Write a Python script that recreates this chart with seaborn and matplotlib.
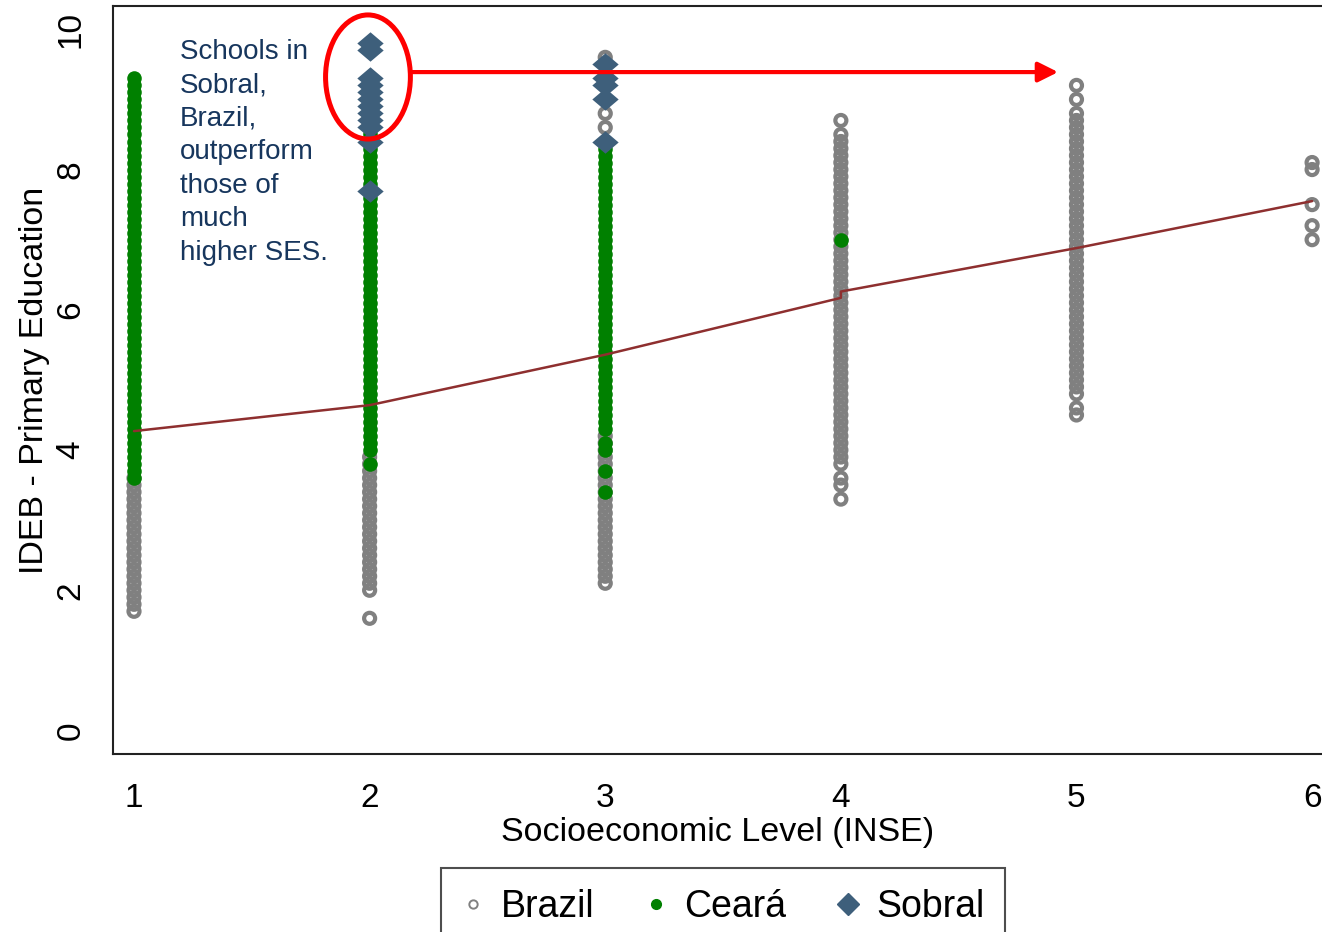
import matplotlib.pyplot as plt
import pandas as pd
import seaborn as sns
from matplotlib.lines import Line2D
from matplotlib.patches import Ellipse

# IDEB scores (INSE level -> visible scores)
brazil = {
    1: [1.7, 1.8, 1.9, 2.0, 2.1, 2.2, 2.3, 2.4, 2.5, 2.6, 2.7, 2.8, 2.9, 3.0,
        3.1, 3.2, 3.3, 3.4, 3.5, 3.6],
    2: [1.6, 2.0, 2.1, 2.2, 2.3, 2.4, 2.5, 2.6, 2.7, 2.8, 2.9, 3.0, 3.1, 3.2,
        3.3, 3.4, 3.5, 3.6, 3.7, 3.8, 3.9],
    3: [2.1, 2.2, 2.3, 2.4, 2.5, 2.6, 2.7, 2.8, 2.9, 3.0, 3.1, 3.2, 3.3, 3.4,
        3.5, 3.6, 3.7, 3.8, 3.9, 4.0, 4.1, 4.2, 8.6, 8.8, 9.6],
    4: [3.3, 3.5, 3.6, 3.8, 3.9, 4.0, 4.1, 4.2, 4.3, 4.4, 4.5, 4.6, 4.7, 4.8,
        4.9, 5.0, 5.1, 5.2, 5.3, 5.4, 5.5, 5.6, 5.7, 5.8, 5.9, 6.0, 6.1, 6.2,
        6.3, 6.4, 6.5, 6.6, 6.7, 6.8, 6.9, 7.0, 7.1, 7.2, 7.3, 7.4, 7.5, 7.6,
        7.7, 7.8, 7.9, 8.0, 8.1, 8.2, 8.3, 8.4, 8.5, 8.7],
    5: [4.5, 4.6, 4.8, 4.9, 5.0, 5.1, 5.2, 5.3, 5.4, 5.5, 5.6, 5.7, 5.8, 5.9,
        6.0, 6.1, 6.2, 6.3, 6.4, 6.5, 6.6, 6.7, 6.8, 6.9, 7.0, 7.1, 7.2, 7.3,
        7.4, 7.5, 7.6, 7.7, 7.8, 7.9, 8.0, 8.1, 8.2, 8.3, 8.4, 8.5, 8.6, 8.7,
        8.8, 9.0, 9.2],
    6: [7.0, 7.2, 7.5, 8.0, 8.1],
}
ceara = {
    1: [3.6, 3.7, 3.8, 3.9, 4.0, 4.1, 4.2, 4.3, 4.4, 4.5, 4.6, 4.7, 4.8, 4.9,
        5.0, 5.1, 5.2, 5.3, 5.4, 5.5, 5.6, 5.7, 5.8, 5.9, 6.0, 6.1, 6.2, 6.3,
        6.4, 6.5, 6.6, 6.7, 6.8, 6.9, 7.0, 7.1, 7.2, 7.3, 7.4, 7.5, 7.6, 7.7,
        7.8, 7.9, 8.0, 8.1, 8.2, 8.3, 8.4, 8.5, 8.6, 8.7, 8.8, 8.9, 9.0, 9.1,
        9.2, 9.3],
    2: [3.8, 4.0, 4.1, 4.2, 4.3, 4.4, 4.5, 4.6, 4.7, 4.8, 4.9, 5.0, 5.1, 5.2,
        5.3, 5.4, 5.5, 5.6, 5.7, 5.8, 5.9, 6.0, 6.1, 6.2, 6.3, 6.4, 6.5, 6.6,
        6.7, 6.8, 6.9, 7.0, 7.1, 7.2, 7.3, 7.4, 7.5, 7.6, 7.7, 7.8, 7.9, 8.0,
        8.1, 8.2, 8.3, 8.4, 8.5],
    3: [3.4, 3.7, 4.0, 4.1, 4.3, 4.4, 4.5, 4.6, 4.7, 4.8, 4.9, 5.0, 5.1, 5.2,
        5.3, 5.4, 5.5, 5.6, 5.7, 5.8, 5.9, 6.0, 6.1, 6.2, 6.3, 6.4, 6.5, 6.6,
        6.7, 6.8, 6.9, 7.0, 7.1, 7.2, 7.3, 7.4, 7.5, 7.6, 7.7, 7.8, 7.9, 8.0,
        8.1, 8.2, 8.3],
    4: [7.0],
}
sobral = {
    2: [7.7, 8.4, 8.6, 8.7, 8.8, 8.9, 9.0, 9.1, 9.2, 9.3, 9.7, 9.8],
    3: [8.4, 9.0, 9.2, 9.3, 9.5],
}

# fitted line across INSE levels (step at level 4)
fit_x = [1, 2, 3, 4, 4, 5, 6]
fit_y = [4.27, 4.64, 5.36, 6.17, 6.26, 6.88, 7.55]

x_ticks = [1, 2, 3, 4, 5, 6]
y_ticks = [0, 2, 4, 6, 8, 10]
note = "Schools in\nSobral,\nBrazil,\noutperform\nthose of\nmuch\nhigher SES."


def to_frame(groups):
    rows = [(lvl, v) for lvl, vals in groups.items() for v in vals]
    return pd.DataFrame(rows, columns=["inse", "ideb"])


sns.set_style("white")
plt.rcParams["font.family"] = ["Liberation Sans", "DejaVu Sans"]
plt.rcParams["text.color"] = "black"
plt.rcParams["axes.labelcolor"] = "black"

fig = plt.figure(figsize=(13.22, 9.32), dpi=100)
ax = fig.add_axes([0.0855, 0.191, 0.9145, 0.8026])

grey = "#808080"
green = "#008000"
navy = "#3E5F7B"
# a diamond a little wider than tall, like the Stata marker
wide_diamond = [(-1, 0), (0, 0.85), (1, 0), (0, -0.85), (-1, 0)]

sns.scatterplot(data=to_frame(brazil), x="inse", y="ideb", marker="o", s=63,
                facecolors="none", edgecolor=grey, linewidth=3.0,
                legend=False, ax=ax, zorder=2)
sns.scatterplot(data=to_frame(ceara), x="inse", y="ideb", marker="o", s=110,
                color=green, linewidth=0, legend=False, ax=ax, zorder=3)
sns.scatterplot(data=to_frame(sobral), x="inse", y="ideb", marker=wide_diamond,
                s=360, color=navy, linewidth=0, legend=False, ax=ax, zorder=4)
sns.lineplot(x=fit_x, y=fit_y, sort=False, color="#8E2F2F", linewidth=1.8,
             estimator=None, ax=ax, zorder=5)

# highlight of Sobral schools
ax.add_patch(Ellipse((1.993, 9.32), 0.36, 1.77, fill=False, edgecolor="red",
                     linewidth=3.6, zorder=6))
ax.annotate("", xy=(4.922, 9.39), xytext=(2.175, 9.39),
            arrowprops=dict(arrowstyle="-|>", color="red", lw=3,
                            mutation_scale=30, shrinkA=0, shrinkB=0),
            zorder=6)
ax.text(1.195, 9.86, note, ha="left", va="top", fontsize=20,
        color="#17365D", linespacing=1.37, zorder=6)

ax.set_xlim(0.911, 6.042)
ax.set_ylim(-0.335, 10.333)
ax.set_xticks(x_ticks)
ax.set_yticks(y_ticks)
ax.tick_params(axis="both", direction="out", length=11, width=1.3,
               color="#222222", labelsize=24, labelcolor="black")
ax.tick_params(axis="x", pad=10)
ax.tick_params(axis="y", pad=8, labelrotation=90)
for lab in ax.get_yticklabels():
    lab.set_va("center")

ax.set_xlabel("Socioeconomic Level (INSE)", fontsize=24.5, labelpad=2)
ax.set_ylabel("IDEB - Primary Education", fontsize=24.5, labelpad=4)

for side in ["left", "bottom", "top"]:
    ax.spines[side].set_color("#222222")
    ax.spines[side].set_linewidth(1.5)
ax.spines["right"].set_visible(False)

handles = [
    Line2D([], [], ls="none", marker="o", ms=6, mfc="none", mec=grey, mew=1.4),
    Line2D([], [], ls="none", marker="o", ms=7, color=green),
    Line2D([], [], ls="none", marker="D", ms=11, color=navy),
]
leg = fig.legend(handles, ["Brazil", "Ceará", "Sobral"], ncol=3,
                 loc="upper center", bbox_to_anchor=(723 / 1322, 1 - 868 / 932),
                 fontsize=27, frameon=True, fancybox=False, borderpad=0.55,
                 borderaxespad=0, handlelength=0.6, handletextpad=0.45,
                 columnspacing=1.35)
leg.get_frame().set_edgecolor("#222222")
leg.get_frame().set_linewidth(1.5)

fig.savefig("out.png", dpi=100)
